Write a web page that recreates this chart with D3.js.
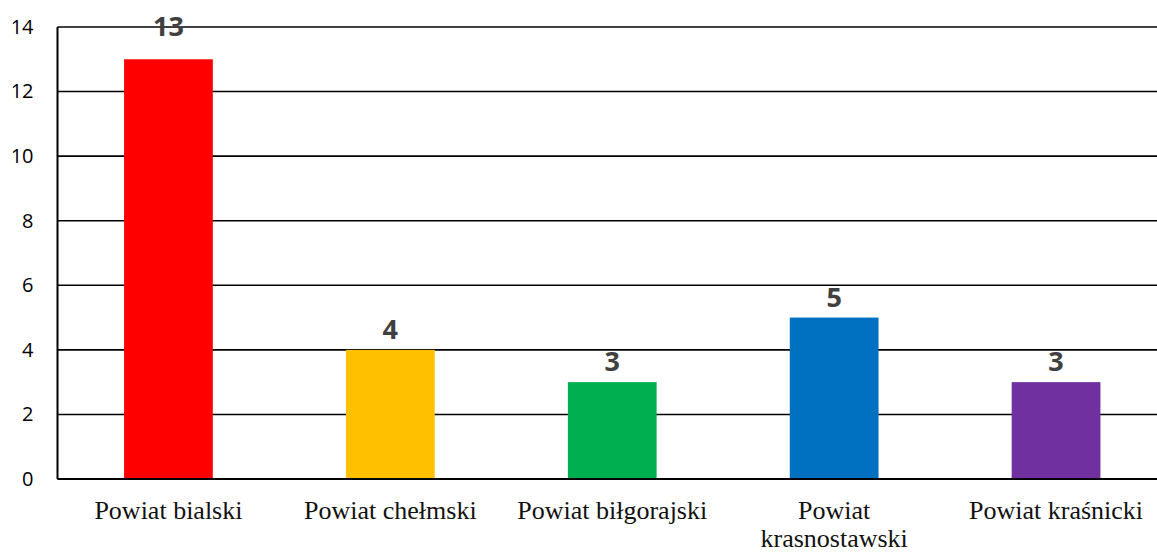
<!DOCTYPE html>
<html>
<head>
<meta charset="utf-8">
<script src="https://cdn.jsdelivr.net/npm/d3@7"></script>
<style>
  body { margin: 0; background: #fff; }
  svg { display: block; }
</style>
</head>
<body>
<div id="chart"></div>
<script>
// chart data
const categories = ["Powiat bialski", "Powiat chełmski", "Powiat biłgorajski", "Powiat krasnostawski", "Powiat kraśnicki"];
const values = [13, 4, 3, 5, 3];
const colors = ["#FF0000", "#FFC000", "#00B050", "#0070C0", "#7030A0"];
const yTicks = [0, 2, 4, 6, 8, 10, 12, 14];

const W = 1157, H = 552;
const margin = { top: 27, right: -10, bottom: 73, left: 57.5 };
const width = W - margin.left - margin.right;
const height = H - margin.top - margin.bottom;

const svg = d3.select("#chart").append("svg")
    .attr("width", W)
    .attr("height", H);

const g = svg.append("g")
    .attr("transform", `translate(${margin.left},${margin.top})`);

const x = d3.scaleBand()
    .domain(categories)
    .range([0, width])
    .paddingInner(0.6)
    .paddingOuter(0.3);

const y = d3.scaleLinear()
    .domain([0, 14])
    .range([height, 0]);

// gridlines
g.append("g")
    .selectAll("line")
    .data(yTicks)
    .join("line")
    .attr("x1", 0)
    .attr("x2", width)
    .attr("y1", d => y(d))
    .attr("y2", d => y(d))
    .attr("stroke", "#000")
    .attr("stroke-width", 1.6);

// y axis labels
const yAxis = g.append("g")
    .call(d3.axisLeft(y).tickValues(yTicks).tickSize(0).tickPadding(24));
yAxis.select(".domain").remove();
yAxis.selectAll("text")
    .attr("font-family", "'Open Sans', sans-serif")
    .attr("font-size", 20)
    .attr("fill", "#000");

// bars
g.selectAll(".bar")
    .data(values)
    .join("rect")
    .attr("class", "bar")
    .attr("x", (d, i) => x(categories[i]))
    .attr("width", x.bandwidth())
    .attr("y", d => y(d))
    .attr("height", d => height - y(d))
    .attr("fill", (d, i) => colors[i]);

// value labels (top one is pushed up against the frame as in the original)
g.selectAll(".val")
    .data(values)
    .join("text")
    .attr("class", "val")
    .attr("x", (d, i) => x(categories[i]) + x.bandwidth() / 2)
    .attr("y", d => d > 12 ? 9 : y(d) - 11)
    .attr("text-anchor", "middle")
    .attr("font-family", "'Open Sans', sans-serif")
    .attr("font-weight", "bold")
    .attr("font-size", 27)
    .attr("fill", "#404040")
    .text(d => d);

// axis lines
g.append("line")
    .attr("x1", 0).attr("x2", 0)
    .attr("y1", 0).attr("y2", height)
    .attr("stroke", "#000").attr("stroke-width", 2);
g.append("line")
    .attr("x1", 0).attr("x2", width)
    .attr("y1", height).attr("y2", height)
    .attr("stroke", "#000").attr("stroke-width", 2);

// category labels, wrapped to the band
const step = x.step();
const cat = g.append("g")
    .selectAll("text")
    .data(categories)
    .join("text")
    .attr("x", d => x(d) + x.bandwidth() / 2)
    .attr("y", height + 40)
    .attr("text-anchor", "middle")
    .attr("font-family", "'Liberation Serif', 'Times New Roman', serif")
    .attr("font-size", 26)
    .attr("fill", "#111")
    .text(d => d);

cat.each(function(d) {
    const t = d3.select(this);
    if (this.getComputedTextLength() <= step - 10) return;
    const words = d.split(" ");
    const cx = t.attr("x");
    t.text(null);
    words.forEach((w, i) => {
        t.append("tspan")
            .attr("x", cx)
            .attr("dy", i === 0 ? 0 : 28)
            .text(w);
    });
});
</script>
</body>
</html>
